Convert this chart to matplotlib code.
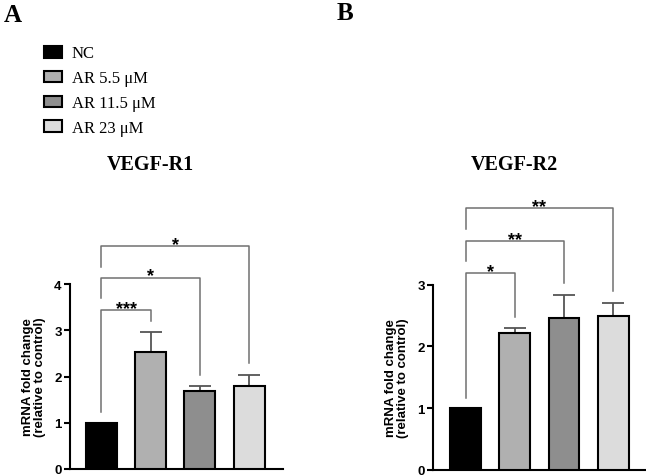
import matplotlib
matplotlib.use("Agg")
import matplotlib.pyplot as plt
from matplotlib.transforms import offset_copy

groups = ["NC", "AR 5.5 μM", "AR 11.5 μM", "AR 23 μM"]
colors = ["#000000", "#b0b0b0", "#8e8e8e", "#dcdcdc"]

r1_mean = [1.0, 2.54, 1.68, 1.80]
r1_err = [0.0, 0.43, 0.11, 0.24]
r2_mean = [1.0, 2.21, 2.46, 2.49]
r2_err = [0.0, 0.08, 0.38, 0.22]

# (from, to, bracket height, left leg end, right leg end, label)
r1_sig = [(0, 1, 3.44, 1.24, 3.19, "***"),
          (0, 2, 4.14, 3.70, 2.04, "*"),
          (0, 3, 4.82, 4.37, 2.29, "*")]
r2_sig = [(0, 1, 3.19, 1.17, 2.47, "*"),
          (0, 2, 3.71, 3.38, 3.02, "**"),
          (0, 3, 4.24, 3.90, 2.89, "**")]

W, H = 646, 477
fig = plt.figure(figsize=(W / 100, H / 100), dpi=100)

sans = "Liberation Sans"
serif = "Liberation Serif"


def add_ax(left, right, y0, ytop):
    return fig.add_axes([left / W, (H - y0) / H, (right - left) / W, (y0 - ytop) / H])


def draw_panel(ax, means, errs, sig, ymax, xlim):
    x = list(range(len(means)))
    bars = ax.bar(x, means, width=0.63, color=colors, edgecolor="black",
                  linewidth=1.5, zorder=3, label=groups)
    ax.errorbar(x, means, yerr=[[0] * len(errs), errs], fmt="none",
                ecolor="#555555", elinewidth=1.3, capsize=8, capthick=1.3, zorder=2)
    ax.set_xlim(*xlim)
    ax.set_ylim(0, ymax)
    ax.set_yticks(range(0, ymax + 1))
    ax.set_xticks([])
    for s in ["top", "right"]:
        ax.spines[s].set_visible(False)
    for s in ["left", "bottom"]:
        ax.spines[s].set_linewidth(1.5)
    ax.tick_params(axis="y", length=4, width=1.5, pad=2, labelsize=9.5)
    for t in ax.get_yticklabels():
        t.set_fontfamily(sans)
        t.set_fontweight("bold")
    ax.set_ylabel("mRNA fold change\n(relative to control)", fontfamily=sans,
                  fontweight="bold", fontsize=9.5, linespacing=1.0)
    ax.yaxis.set_label_coords(-0.115, 0.5)

    star_tr = offset_copy(ax.transData, fig=fig, y=-7, units="dots")
    for i, j, yb, yl, yr, lab in sig:
        ax.plot([i, i, j, j], [yl, yb, yb, yr], color="#707070", lw=1.1,
                clip_on=False, zorder=1)
        ax.text((i + j) / 2, yb, lab, ha="center", va="bottom", fontsize=13,
                fontfamily=sans, fontweight="bold", transform=star_tr, clip_on=False)
    return bars


ax_a = add_ax(70, 283, 470, 285)
bars = draw_panel(ax_a, r1_mean, r1_err, r1_sig, 4, (-0.64, 3.69))
ax_b = add_ax(433, 645, 470.7, 285.7)
draw_panel(ax_b, r2_mean, r2_err, r2_sig, 3, (-0.67, 3.65))

fig.text(150 / W, 1 - 165 / H, "VEGF-R1", ha="center", va="center",
         fontfamily=serif, fontweight="bold", fontsize=14.5)
fig.text(514 / W, 1 - 165 / H, "VEGF-R2", ha="center", va="center",
         fontfamily=serif, fontweight="bold", fontsize=14.5)
fig.text(13 / W, 1 - 16 / H, "A", ha="center", va="center",
         fontfamily=serif, fontweight="bold", fontsize=18)
fig.text(345 / W, 1 - 14 / H, "B", ha="center", va="center",
         fontfamily=serif, fontweight="bold", fontsize=18)

fig.legend(bars.patches, groups, loc="upper left",
           bbox_to_anchor=(44 / W, 1 - 46.5 / H), frameon=False,
           prop={"family": serif, "size": 12}, handlelength=1.05,
           handleheight=0.7, handletextpad=0.6, labelspacing=0.53,
           borderpad=0, borderaxespad=0)

fig.savefig("out.png", dpi=100)
